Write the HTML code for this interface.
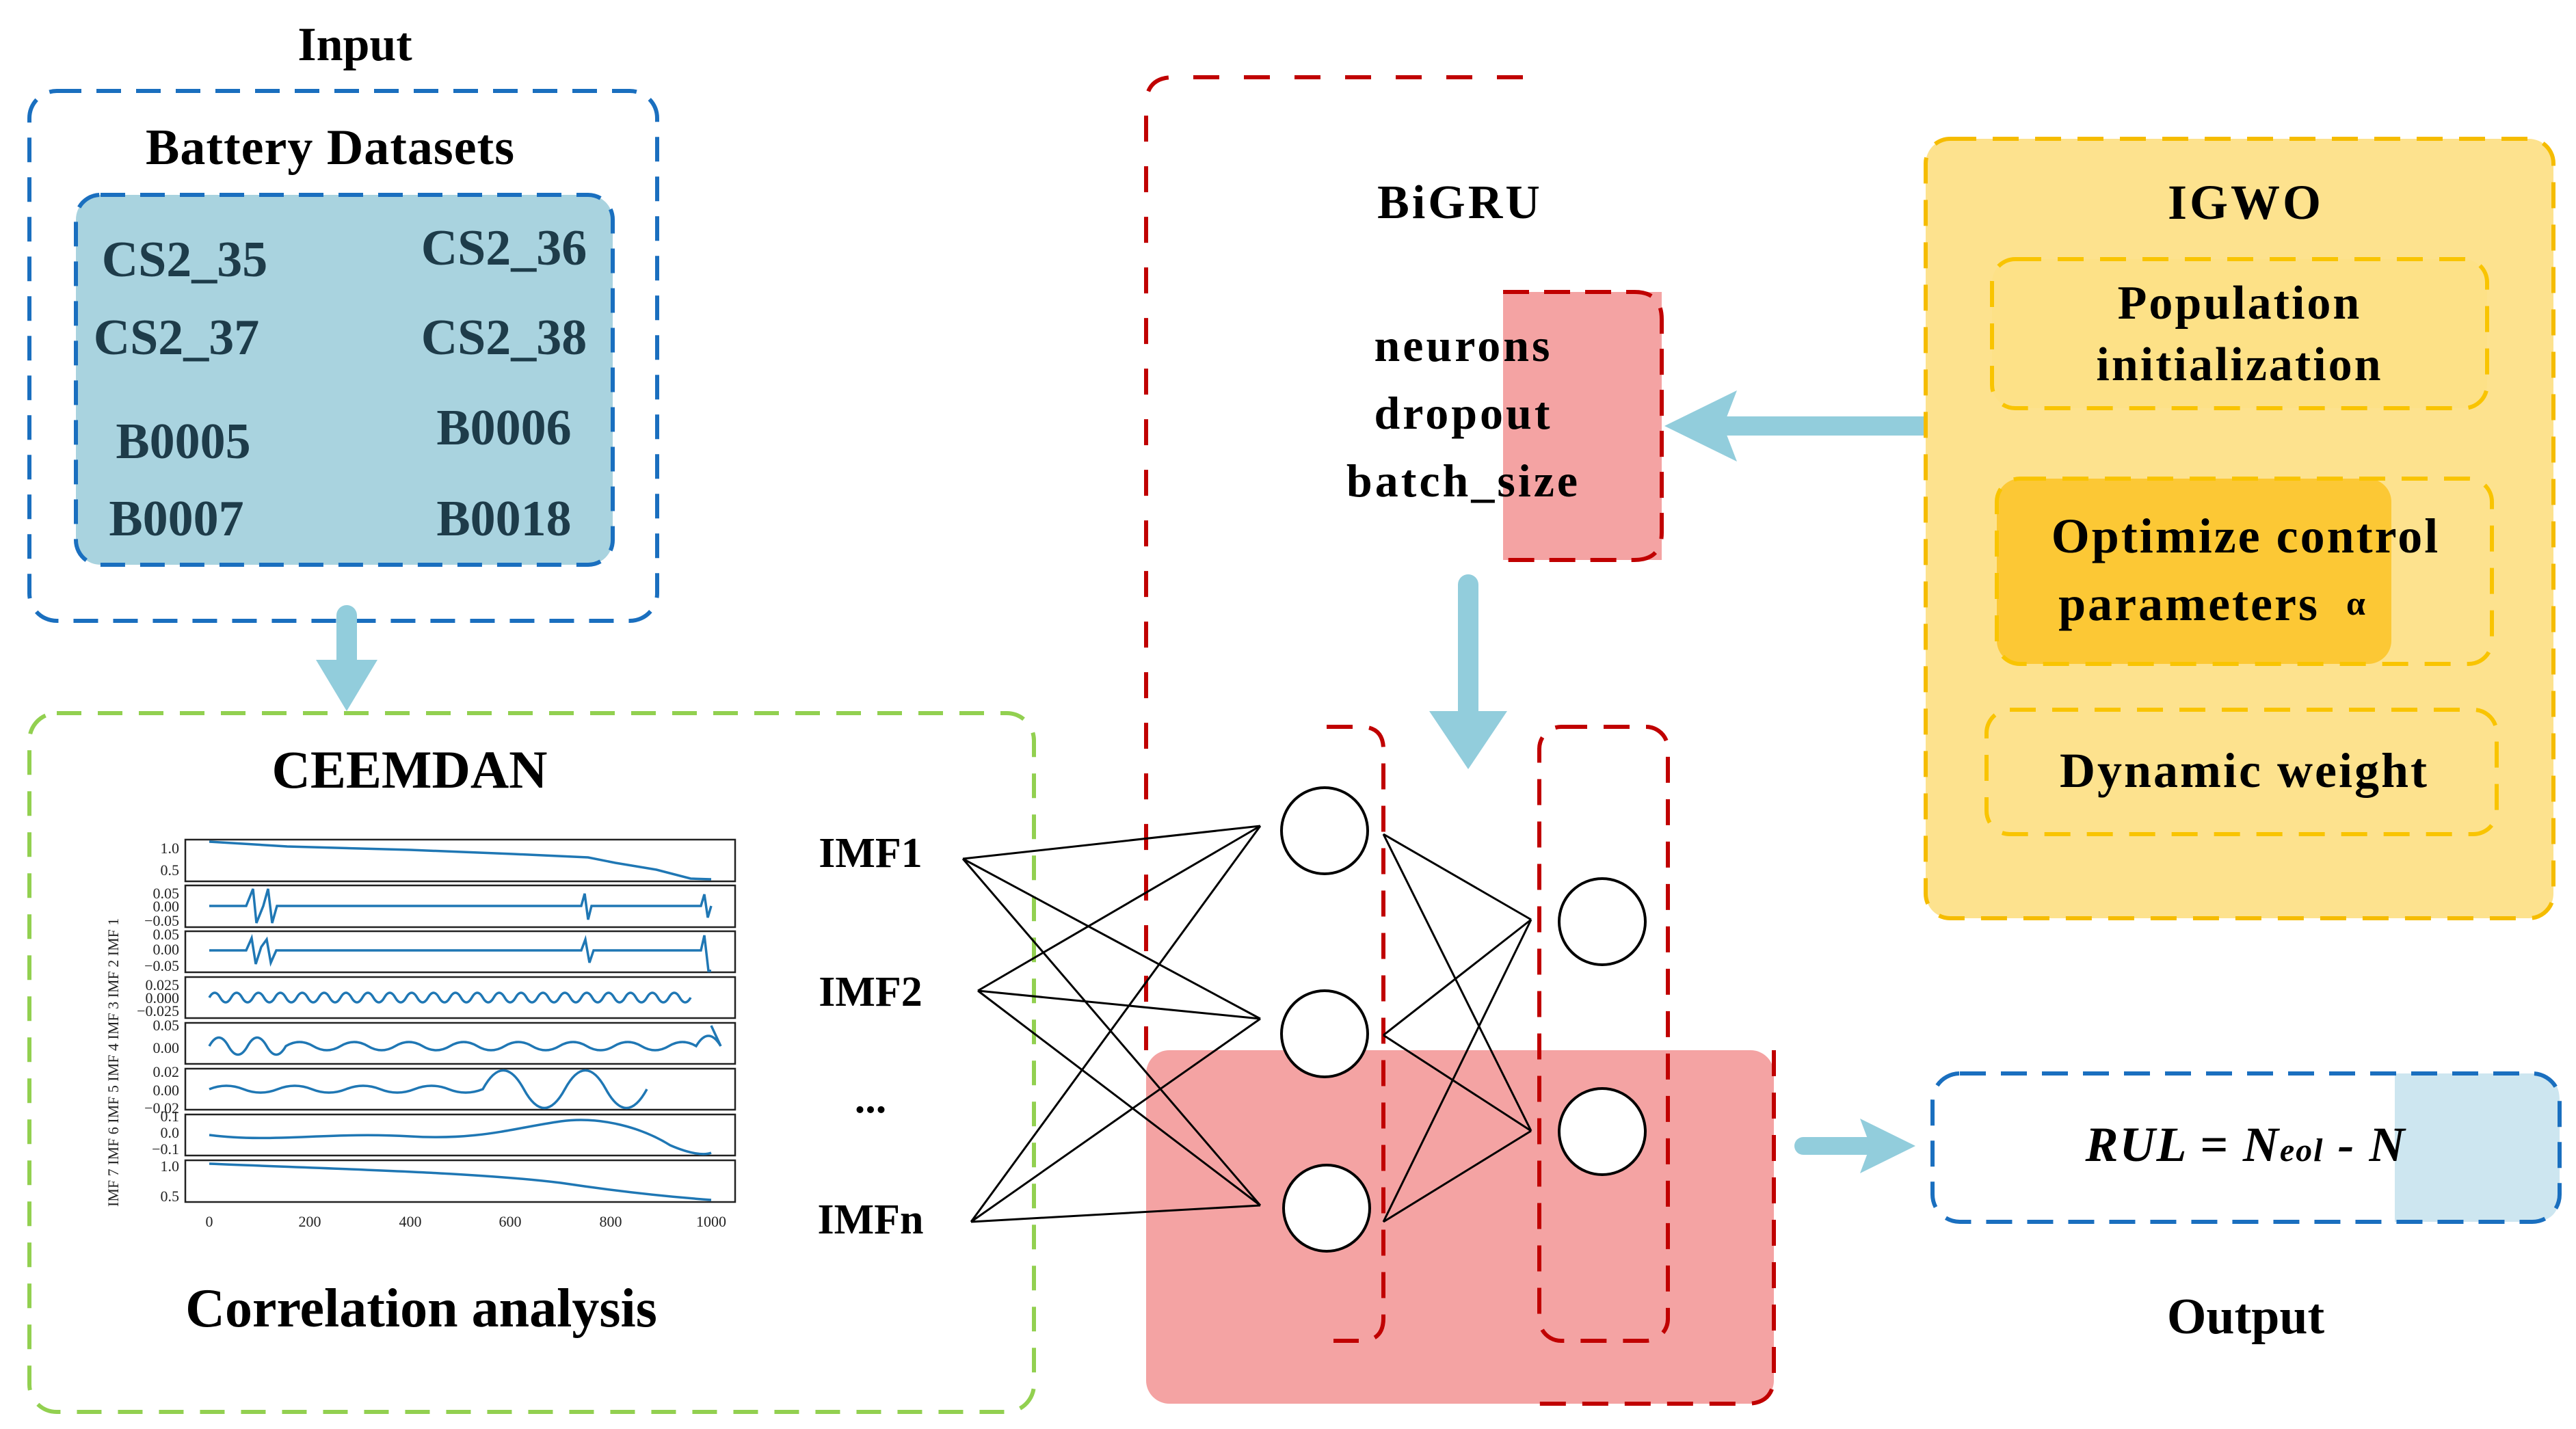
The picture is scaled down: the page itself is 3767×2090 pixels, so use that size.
<!DOCTYPE html>
<html><head><meta charset="utf-8"><style>
html,body{margin:0;padding:0;background:#fff}
svg{display:block}
text{font-family:"Liberation Serif",serif;font-weight:bold}
</style></head><body>
<svg width="3767" height="2090" viewBox="0 0 3767 2090" xmlns="http://www.w3.org/2000/svg">

<!-- Input -->
<text x="519" y="88" font-size="70" text-anchor="middle">Input</text>
<rect x="43" y="133" width="918" height="775" rx="40" fill="none" stroke="#1a6fbf" stroke-width="6" stroke-dasharray="36 22"/>
<text x="483" y="240" font-size="74" text-anchor="middle" letter-spacing="1">Battery Datasets</text>
<rect x="111" y="285" width="785" height="541" rx="36" fill="#a9d3df" stroke="#1a6fbf" stroke-width="6" stroke-dasharray="36 22"/>
<g font-size="74" fill="#1e3c4a" text-anchor="middle">
<text x="270" y="404">CS2_35</text><text x="737" y="387">CS2_36</text>
<text x="258" y="518">CS2_37</text><text x="737" y="518">CS2_38</text>
<text x="268" y="670">B0005</text><text x="737" y="650">B0006</text>
<text x="258" y="783">B0007</text><text x="737" y="783">B0018</text>
</g>
<line x1="507" y1="900" x2="507" y2="975" stroke="#92cddc" stroke-width="30" stroke-linecap="round"/>
<polygon points="462,965 552,965 507,1040" fill="#92cddc"/>

<!-- CEEMDAN box -->
<rect x="43" y="1043" width="1469" height="1022" rx="40" fill="none" stroke="#92d050" stroke-width="6" stroke-dasharray="36 24"/>
<text x="599" y="1152" font-size="78" text-anchor="middle">CEEMDAN</text>
<text x="616" y="1940" font-size="80" text-anchor="middle">Correlation analysis</text>

<!-- chart -->
<g fill="none" stroke="#222" stroke-width="2.5">
<rect x="271" y="1228" width="804" height="61"/>
<rect x="271" y="1295" width="804" height="61"/>
<rect x="271" y="1362" width="804" height="60"/>
<rect x="271" y="1429" width="804" height="60"/>
<rect x="271" y="1496" width="804" height="60"/>
<rect x="271" y="1563" width="804" height="60"/>
<rect x="271" y="1630" width="804" height="60"/>
<rect x="271" y="1697" width="804" height="61"/>
</g>
<g fill="none" stroke="#1f77b4" stroke-width="3.5">
<path d="M306 1231 L420 1238 L600 1243 L750 1249 L860 1254 L900 1262 L960 1272 L1010 1285 L1040 1286"/>
<path d="M306 1325 L360 1325 L370 1300 L375 1350 L385 1325 L392 1300 L398 1350 L405 1325 L850 1325 L855 1307 L860 1345 L865 1325 L1025 1325 L1030 1308 L1035 1342 L1040 1325"/>
<path d="M306 1390 L360 1390 L368 1372 L374 1410 L382 1385 L390 1374 L396 1408 L404 1390 L850 1390 L856 1374 L862 1408 L868 1390 L1025 1390 L1030 1368 L1036 1420 L1040 1420"/>
<path d="M306 1459 q8 -14 16 0 t16 0 t16 0 t16 0 t16 0 t16 0 t16 0 t16 0 t16 0 t16 0 t16 0 t16 0 t16 0 t16 0 t16 0 t16 0 t16 0 t16 0 t16 0 t16 0 t16 0 t16 0 t16 0 t16 0 t16 0 t16 0 t16 0 t16 0 t16 0 t16 0 t16 0 t16 0 t16 0 t16 0 t16 0 t16 0 t16 0 t16 0 t16 0 t16 0 t16 0 t16 0 t16 0 t16 0"/>
<path d="M306 1530 q14 -25 28 0 t28 0 t28 0 t28 0 q20 -12 40 0 t40 0 t40 0 t40 0 t40 0 t40 0 t40 0 t40 0 t40 0 t40 0 t40 0 t40 0 t40 0 t40 0 t40 0 q18 -30 36 0 L1040 1500"/>
<path d="M306 1593 q25 -10 50 0 t50 0 t50 0 t50 0 t50 0 t50 0 t50 0 t50 0 q30 -55 60 0 t60 0 t60 0 t60 0"/>
<path d="M306 1660 C400 1672 480 1655 600 1662 C700 1668 750 1650 820 1640 C880 1632 940 1650 980 1675 C1010 1688 1030 1690 1040 1686"/>
<path d="M306 1702 C500 1710 700 1715 820 1730 C920 1745 1000 1752 1040 1755"/>
</g>
<g font-size="22" fill="#222">
<g text-anchor="middle">
<text x="306" y="1794" style="font-weight:normal">0</text>
<text x="453" y="1794" style="font-weight:normal">200</text>
<text x="600" y="1794" style="font-weight:normal">400</text>
<text x="746" y="1794" style="font-weight:normal">600</text>
<text x="893" y="1794" style="font-weight:normal">800</text>
<text x="1040" y="1794" style="font-weight:normal">1000</text>
</g>
<g text-anchor="end">
<text x="262" y="1248" style="font-weight:normal">1.0</text><text x="262" y="1280" style="font-weight:normal">0.5</text>
<text x="262" y="1314" style="font-weight:normal">0.05</text><text x="262" y="1333" style="font-weight:normal">0.00</text><text x="262" y="1354" style="font-weight:normal">−0.05</text>
<text x="262" y="1374" style="font-weight:normal">0.05</text><text x="262" y="1396" style="font-weight:normal">0.00</text><text x="262" y="1420" style="font-weight:normal">−0.05</text>
<text x="262" y="1448" style="font-weight:normal">0.025</text><text x="262" y="1467" style="font-weight:normal">0.000</text><text x="262" y="1486" style="font-weight:normal">−0.025</text>
<text x="262" y="1507" style="font-weight:normal">0.05</text><text x="262" y="1540" style="font-weight:normal">0.00</text>
<text x="262" y="1575" style="font-weight:normal">0.02</text><text x="262" y="1602" style="font-weight:normal">0.00</text><text x="262" y="1628" style="font-weight:normal">−0.02</text>
<text x="262" y="1640" style="font-weight:normal">0.1</text><text x="262" y="1664" style="font-weight:normal">0.0</text><text x="262" y="1688" style="font-weight:normal">−0.1</text>
<text x="262" y="1713" style="font-weight:normal">1.0</text><text x="262" y="1757" style="font-weight:normal">0.5</text>
</g>
<text transform="translate(173,1765) rotate(-90)" style="font-weight:normal">IMF 7  IMF 6  IMF 5  IMF 4  IMF 3  IMF 2  IMF 1</text>
</g>

<g font-size="62" text-anchor="middle">
<text x="1273" y="1268">IMF1</text>
<text x="1273" y="1471">IMF2</text>
<text x="1273" y="1627">...</text>
<text x="1273" y="1804">IMFn</text>
</g>

<!-- BiGRU -->
<rect x="1676" y="1536" width="918" height="517" rx="34" fill="#f4a3a3"/>
<path d="M2227 113 L1716 113 Q1676 113 1676 153 L1676 1536" fill="none" stroke="#c00000" stroke-width="6" stroke-dasharray="38 36"/>
<path d="M2594 1536 L2594 2013 Q2594 2053 2554 2053 L2240 2053" fill="none" stroke="#c00000" stroke-width="6" stroke-dasharray="38 24"/>
<text x="2135" y="319" font-size="70" text-anchor="middle" letter-spacing="4">BiGRU</text>
<rect x="2198" y="427" width="232" height="392" fill="#f4a3a3"/>
<path d="M2198 427 L2390 427 Q2430 427 2430 467 L2430 779 Q2430 819 2390 819 L2198 819" fill="none" stroke="#c00000" stroke-width="6" stroke-dasharray="38 22"/>
<g font-size="68" text-anchor="middle" letter-spacing="4">
<text x="2140" y="528">neurons</text>
<text x="2140" y="627">dropout</text>
<text x="2140" y="726">batch_size</text>
</g>
<line x1="2820" y1="623" x2="2520" y2="623" stroke="#92cddc" stroke-width="28" stroke-linecap="round"/>
<polygon points="2434,623 2540,571 2520,623 2540,675" fill="#92cddc"/>
<line x1="2147" y1="855" x2="2147" y2="1060" stroke="#92cddc" stroke-width="30" stroke-linecap="round"/>
<polygon points="2090,1040 2204,1040 2147,1125" fill="#92cddc"/>

<path d="M1940 1063 L1990 1063 Q2023 1063 2023 1096 L2023 1928 Q2023 1961 1990 1961 L1950 1961" fill="none" stroke="#c00000" stroke-width="6" stroke-dasharray="38 24"/>
<rect x="2251" y="1063" width="188" height="898" rx="32" fill="none" stroke="#c00000" stroke-width="6" stroke-dasharray="38 24"/>

<g stroke="#000" stroke-width="3" fill="none">
<path d="M1408 1256 L1843 1208 M1408 1256 L1843 1490 M1408 1256 L1843 1763"/>
<path d="M1430 1449 L1843 1208 M1430 1449 L1843 1490 M1430 1449 L1843 1763"/>
<path d="M1420 1787 L1843 1208 M1420 1787 L1843 1490 M1420 1787 L1843 1763"/>
<path d="M2023 1220 L2239 1345 M2023 1220 L2239 1654"/>
<path d="M2023 1514 L2239 1345 M2023 1514 L2239 1654"/>
<path d="M2023 1787 L2239 1345 M2023 1787 L2239 1654"/>
</g>
<g fill="#fff" stroke="#000" stroke-width="4">
<circle cx="1937" cy="1215" r="63"/>
<circle cx="1937" cy="1512" r="63"/>
<circle cx="1940" cy="1767" r="63"/>
<circle cx="2343" cy="1348" r="63"/>
<circle cx="2343" cy="1655" r="63"/>
</g>

<!-- IGWO -->
<rect x="2816" y="203" width="918" height="1140" rx="36" fill="#fde28e" stroke="#f5bc00" stroke-width="6" stroke-dasharray="38 24"/>
<text x="3284" y="320" font-size="72" text-anchor="middle" letter-spacing="4">IGWO</text>
<rect x="2913" y="379" width="724" height="218" rx="34" fill="#fde187" stroke="#f9c400" stroke-width="6" stroke-dasharray="38 24"/>
<text x="3275" y="466" font-size="70" text-anchor="middle" letter-spacing="3">Population</text>
<text x="3275" y="556" font-size="70" text-anchor="middle" letter-spacing="3">initialization</text>
<rect x="2920" y="700" width="577" height="271" rx="34" fill="#fcc835"/>
<rect x="2920" y="700" width="724" height="271" rx="34" fill="none" stroke="#f9c400" stroke-width="6" stroke-dasharray="38 24"/>
<text x="3284" y="808" font-size="72" text-anchor="middle" letter-spacing="3">Optimize control</text>
<text x="3236" y="907" font-size="72" text-anchor="middle" letter-spacing="3">parameters <tspan font-size="50" dx="18" dy="-8">α</tspan></text>
<rect x="2905" y="1038" width="746" height="182" rx="34" fill="none" stroke="#f9c400" stroke-width="6" stroke-dasharray="38 24"/>
<text x="3282" y="1151" font-size="72" text-anchor="middle" letter-spacing="3">Dynamic weight</text>

<!-- output -->
<line x1="2637" y1="1676" x2="2730" y2="1676" stroke="#92cddc" stroke-width="26" stroke-linecap="round"/>
<polygon points="2801,1676 2720,1636 2735,1676 2720,1716" fill="#92cddc"/>
<path d="M3502 1570 L3703 1570 Q3743 1570 3743 1610 L3743 1747 Q3743 1787 3703 1787 L3502 1787 Z" fill="#cde6f0"/>
<rect x="2826" y="1570" width="917" height="217" rx="40" fill="none" stroke="#1a6fbf" stroke-width="6" stroke-dasharray="38 22"/>
<text x="3284" y="1698" font-size="72" text-anchor="middle" font-style="italic" letter-spacing="2">RUL = N<tspan font-size="48">eol</tspan> - N</text>
<text x="3284" y="1950" font-size="74" text-anchor="middle">Output</text>
</svg>
</body></html>
